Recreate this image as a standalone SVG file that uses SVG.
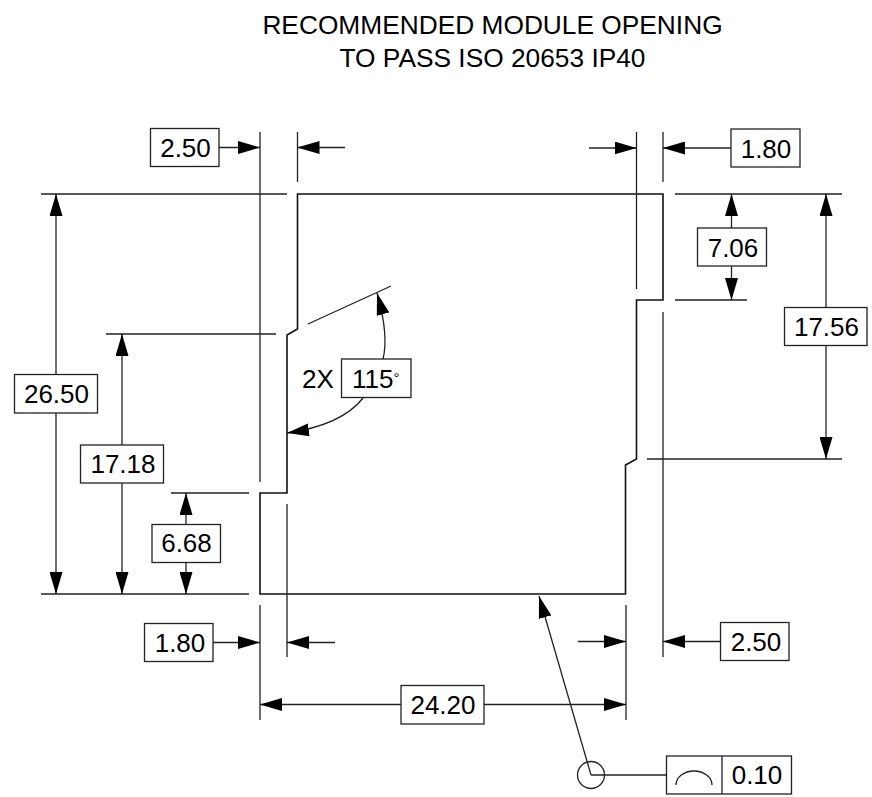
<svg xmlns="http://www.w3.org/2000/svg" width="872" height="797" viewBox="0 0 872 797">
<style>
text{font-family:"Liberation Sans",Arial,sans-serif;fill:#000}
.t{font-size:26.3px;text-anchor:middle}
.d{font-size:26px;text-anchor:middle}
.b{fill:#fff;stroke:#222;stroke-width:1.3}
.l{fill:none;stroke:#222;stroke-width:1.3}
.a{marker-end:url(#ah)}
.o{fill:none;stroke:#111;stroke-width:1.6}
</style>
<defs>
<marker id="ah" viewBox="0 0 22 13" refX="22" refY="6.500" markerWidth="22" markerHeight="13" markerUnits="userSpaceOnUse" orient="auto"><path d="M0 0L22 6.500L0 13Z" fill="#000"/></marker>
</defs>
<rect width="872" height="797" fill="#fff"/>
<g id="title">
<text class="t" x="492.500" y="34">RECOMMENDED MODULE OPENING</text>
<text class="t" x="492.500" y="67">TO PASS ISO 20653 IP40</text>
</g>
<g id="outline"><path class="o" d="M297.500 194H663V300H636.500V459L625.500 465V594H260V493H287V335L297.500 329Z"/></g>
<g id="connectors">
<path class="l" d="M260 132V482M297.500 132V182M636.500 132V289M663 132V182M663 312V657M287 504V657M260 605V720M626 605V720"/>
<path class="l" d="M41 194H287M675 194H842M675 300H747M647 459H842M41 594H249M171 493H249M106 334H276"/>
<path class="l" d="M308 324L391 286"/>
<path class="l a" d="M219 147.500H260"/>
<path class="l a" d="M345 147.500H297.500"/>
<path class="l a" d="M589 148H636.500"/>
<path class="l a" d="M731 148H663"/>
<path class="l a" d="M731.500 228V194"/>
<path class="l a" d="M731.500 266V300"/>
<path class="l a" d="M826 307V194"/>
<path class="l a" d="M826 345V459"/>
<path class="l a" d="M56 374V194"/>
<path class="l a" d="M56 413V594"/>
<path class="l a" d="M122 445V334"/>
<path class="l a" d="M122 483V594"/>
<path class="l a" d="M186 524V493"/>
<path class="l a" d="M186 563V594"/>
<path class="l a" d="M213 642.500H260"/>
<path class="l a" d="M335 642.500H287"/>
<path class="l a" d="M578 641.500H626"/>
<path class="l a" d="M720 641.500H663"/>
<path class="l a" d="M401 704.500H260"/>
<path class="l a" d="M484 704.500H626"/>
<path class="l a" d="M383 359Q389 335 377 293"/>
<path class="l a" d="M363 398Q342 425 287 433"/>
<path class="l a" d="M591 775L539 596"/>
<path class="l" d="M591 775H666"/>
<circle class="l" cx="591" cy="775" r="13.500"/>
</g>
<g id="dim-top-left"><rect class="b" x="150.500" y="128.500" width="68.500" height="38"/><text class="d" x="185.500" y="156.500">2.50</text></g>
<g id="dim-top-right"><rect class="b" x="731" y="129" width="69" height="38"/><text class="d" x="766" y="157.500">1.80</text></g>
<g id="dim-706"><rect class="b" x="697.500" y="228" width="69" height="38"/><text class="d" x="733" y="256.500">7.06</text></g>
<g id="dim-1756"><rect class="b" x="784.500" y="307.500" width="82.500" height="38"/><text class="d" x="826.500" y="336">17.56</text></g>
<g id="dim-2650"><rect class="b" x="14.500" y="374.500" width="83" height="38.500"/><text class="d" x="56.500" y="403">26.50</text></g>
<g id="dim-1718"><rect class="b" x="80.500" y="445" width="83" height="38"/><text class="d" x="123" y="473">17.18</text></g>
<g id="dim-668"><rect class="b" x="152" y="524.500" width="68.500" height="38"/><text class="d" x="186.500" y="552">6.68</text></g>
<g id="dim-bottom-left"><rect class="b" x="144.500" y="623.500" width="68.500" height="38"/><text class="d" x="180" y="651.500">1.80</text></g>
<g id="dim-bottom-right"><rect class="b" x="720.500" y="622.500" width="68.500" height="38"/><text class="d" x="756" y="651">2.50</text></g>
<g id="dim-2420"><rect class="b" x="401" y="685.500" width="83" height="38.500"/><text class="d" x="443" y="714">24.20</text></g>
<g id="dim-angle"><text class="d" x="318" y="388">2X</text><rect class="b" x="341.500" y="359" width="69.500" height="38.500"/><text x="352" y="388" font-size="26">115<tspan font-size="15" dy="-5">°</tspan></text></g>
<g id="tolerance"><rect class="b" x="666.500" y="756" width="125" height="38"/><path class="l" d="M722 756V794M676 785A18 14 0 0 1 712 785"/><text class="d" x="757" y="784">0.10</text></g>
</svg>
